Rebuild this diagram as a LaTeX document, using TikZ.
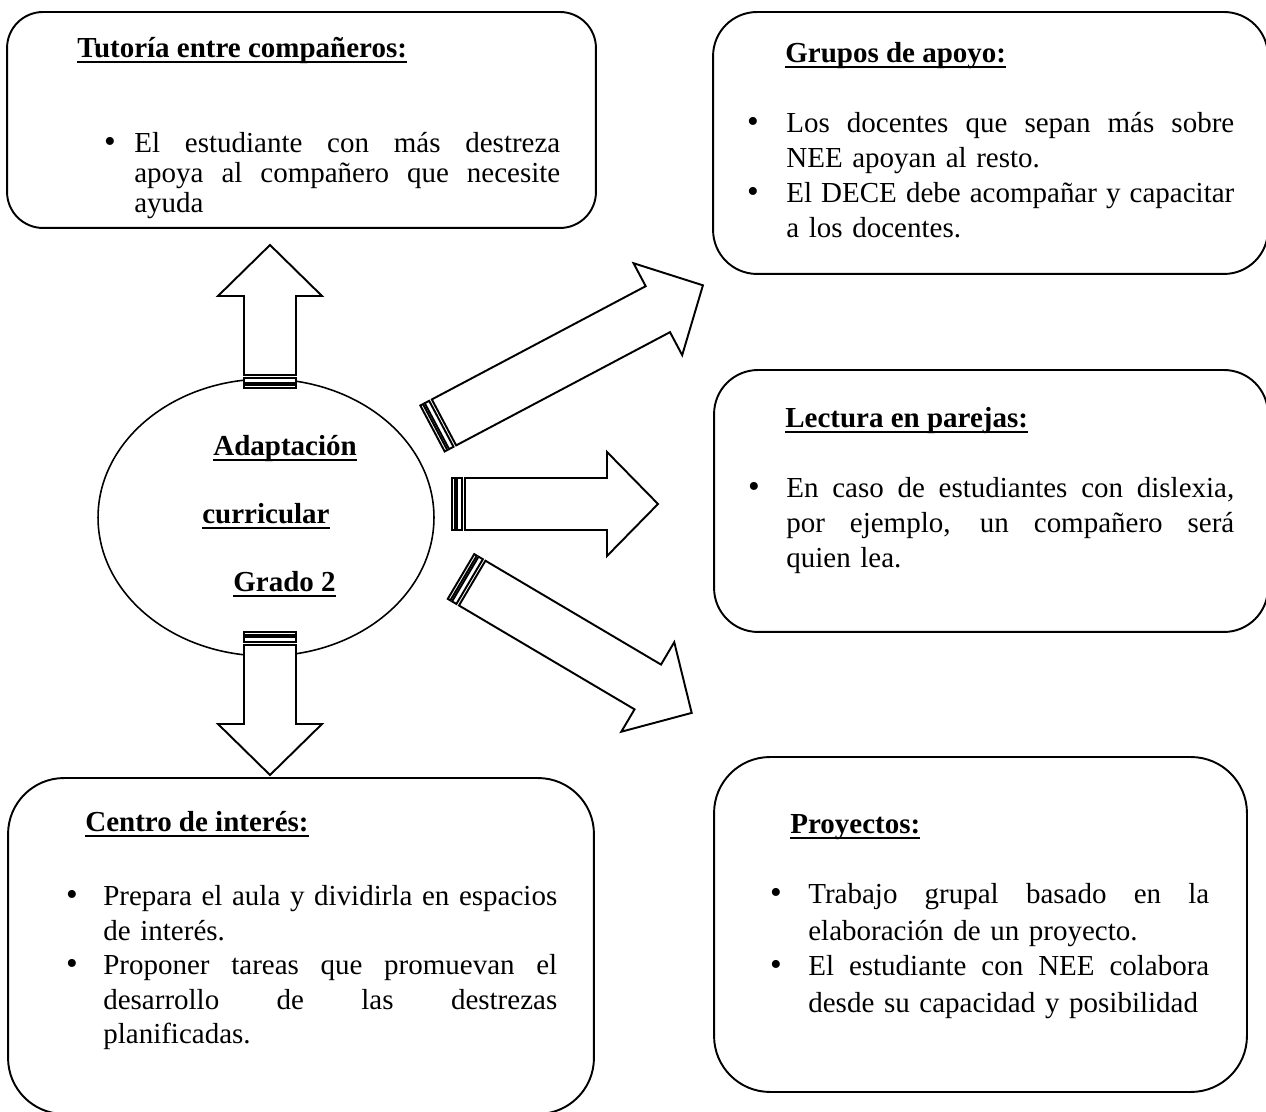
\documentclass[tikz,border=0pt]{standalone}
\usepackage{fontspec}
\setmainfont{Liberation Serif}
\usetikzlibrary{shapes.geometric}
\tikzset{
  idea/.style={rectangle,draw,line width=1.1pt,rounded corners=#1,inner sep=0pt},
  idea/.default=0.88cm,
  hub/.style={ellipse,draw,line width=0.9pt,inner sep=0pt},
  ttl/.style={inner sep=0pt,anchor=base west,font=\fontsize{16.5}{19.9}\selectfont},
  txt/.style={inner sep=0pt,anchor=base west,align=left,
    font=\fontsize{16.5}{#1}\selectfont},
  txt/.default=19.9,
  bul/.style={inner sep=0pt,anchor=base,font=\fontsize{19}{19}\selectfont},
  blockarr/.style={draw,fill=white,line width=1.1pt,line join=miter}
}
% bold text with a heavy underline, as in the source
\newcommand{\ulbf}[1]{\setbox0\hbox{\bfseries #1}\rlap{\rule[-3pt]{\wd0}{1.3pt}}\box0}
% one fully justified line, \colw wide
\newcommand{\colw}{8cm}
\newcommand{\jl}[1]{\hbox to \colw{\spaceskip=0.25em plus 2em minus 0.08em\relax #1}\par}
% striped block arrow: tail centre, angle, length
\newcommand{\stripedarrow}[3]{%
  \begin{scope}[shift={#1},rotate=#2]
    \draw[blockarr] (0,-26) rectangle (3,26);
    \draw[blockarr] (5,-26) rectangle (10,26);
    \draw[blockarr] (13,-26) -- (#3-51,-26) -- (#3-51,-52) -- (#3,0)
      -- (#3-51,52) -- (#3-51,26) -- (13,26) -- cycle;
  \end{scope}}

\begin{document}
\begin{tikzpicture}[x=0.02cm,y=0.02cm]
  \path[use as bounding box,fill=white] (0,0) rectangle (1266,1111);

  % centre
  \node[hub,minimum width=6.72cm,minimum height=5.54cm] (adapt) at (266,593.5) {};
  \node[ttl] (adaptA) at (213,655) {\ulbf{Adaptación}};
  \node[ttl] (adaptB) at (202,587) {\ulbf{curricular}};
  \node[ttl] (adaptC) at (233,519) {\ulbf{Grado 2}};

  % boxes
  \node[idea=0.72cm,minimum width=11.78cm,minimum height=4.32cm] (tutor) at (301.5,991) {};
  \node[idea,minimum width=11.1cm,minimum height=5.24cm] (grupos) at (990.5,968) {};
  \node[idea,minimum width=11.08cm,minimum height=5.24cm] (lectura) at (991,610) {};
  \node[idea=1.12cm,minimum width=11.72cm,minimum height=6.72cm] (centro) at (301,165) {};
  \node[idea=1.12cm,minimum width=10.66cm,minimum height=6.7cm] (proy) at (980.5,186.5) {};

  % Tutoria
  \renewcommand{\colw}{8.52cm}
  \node[ttl] (tutorH) at (77,1053) {\ulbf{Tutoría entre compañeros:}};
  \node[bul] (tutorB) at (110,958) {•};
  \node[txt=16.8,text width=\colw] (tutorA) at (134,958)
    {\jl{El estudiante con más destreza}\jl{apoya al compañero que necesite}ayuda};

  % Grupos de apoyo
  \renewcommand{\colw}{8.96cm}
  \node[ttl] (gruposH) at (785,1048) {\ulbf{Grupos de apoyo:}};
  \node[bul] (gruposB1) at (753,978) {•};
  \node[txt,text width=\colw] (gruposA1) at (786,978)
    {\jl{Los docentes que sepan más sobre}NEE apoyan al resto.};
  \node[bul] (gruposB2) at (753,908) {•};
  \node[txt,text width=\colw] (gruposA2) at (786,908)
    {\jl{El DECE debe acompañar y capacitar}a los docentes.};

  % Lectura en parejas
  \node[ttl] (lecturaH) at (785,683) {\ulbf{Lectura en parejas:}};
  \node[bul] (lecturaB) at (754,613) {•};
  \node[txt,text width=\colw] (lecturaA) at (786,613)
    {\jl{En caso de estudiantes con dislexia,}\jl{por ejemplo, un compañero será}quien lea.};

  % Centro de interes
  \renewcommand{\colw}{9.08cm}
  \node[ttl] (centroH) at (85,279) {\ulbf{Centro de interés:}};
  \node[bul] (centroB1) at (72,205) {•};
  \node[txt=19.6,text width=\colw] (centroA1) at (103,205)
    {\jl{Prepara el aula y dividirla en espacios}de interés.};
  \node[bul] (centroB2) at (72,136) {•};
  \node[txt=19.6,text width=\colw] (centroA2) at (103,136)
    {\jl{Proponer tareas que promuevan el}\jl{desarrollo de las destrezas}planificadas.};

  % Proyectos
  \renewcommand{\colw}{8.02cm}
  \node[ttl] (proyH) at (790,277) {\ulbf{Proyectos:}};
  \node[bul] (proyB1) at (776,207) {•};
  \node[txt=20.5,text width=\colw] (proyA1) at (808,207)
    {\jl{Trabajo grupal basado en la}elaboración de un proyecto.};
  \node[bul] (proyB2) at (776,135) {•};
  \node[txt=20.5,text width=\colw] (proyA2) at (808,135)
    {\jl{El estudiante con NEE colabora}desde su capacidad y posibilidad};

  % arrows out of the centre
  \stripedarrow{(270,723)}{90}{143}
  \stripedarrow{(270,479)}{-90}{143}
  \stripedarrow{(452,607)}{0}{206}
  \stripedarrow{(432.5,682.5)}{27.9}{306}
  \stripedarrow{(461,534.5)}{-30.6}{268}
\end{tikzpicture}
\end{document}
